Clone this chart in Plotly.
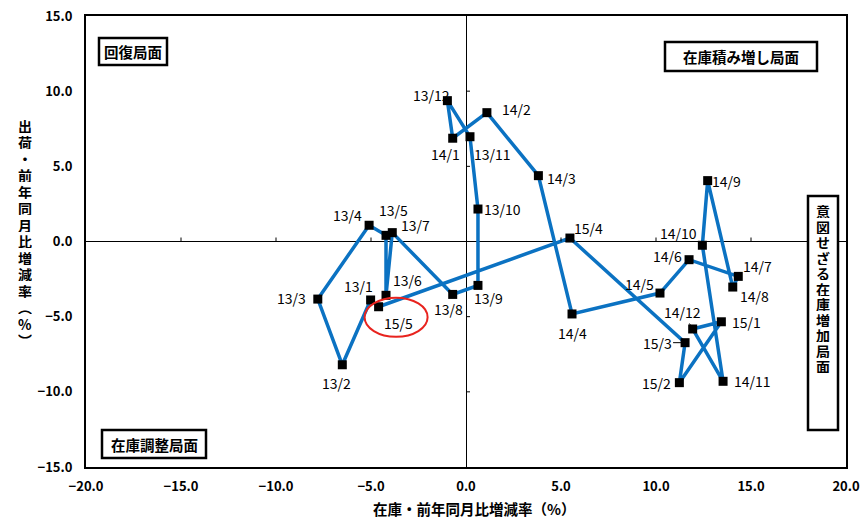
import plotly.graph_objects as go

# ---- data ----
labels = ["13/1", "13/2", "13/3", "13/4", "13/5", "13/6", "13/7", "13/8", "13/9",
          "13/10", "13/11", "13/12", "14/1", "14/2", "14/3", "14/4", "14/5", "14/6",
          "14/7", "14/8", "14/9", "14/10", "14/11", "14/12", "15/1", "15/2", "15/3",
          "15/4", "15/5"]
inventory = [-5.02, -6.51, -7.80, -5.10, -4.21, -4.21, -3.88, -0.70, 0.63,
             0.63, 0.21, -0.98, -0.70, 1.10, 3.81, 5.58, 10.21, 11.74,
             14.33, 14.04, 12.72, 12.44, 13.53, 11.93, 13.44, 11.23, 11.53,
             5.47, -4.60]
shipments = [-3.89, -8.20, -3.83, 1.08, 0.41, -3.58, 0.59, -3.52, -2.92,
             2.16, 6.97, 9.37, 6.87, 8.57, 4.38, -4.82, -3.43, -1.21,
             -2.32, -3.03, 4.05, -0.25, -9.30, -5.82, -5.34, -9.39, -6.73,
             0.23, -4.34]
x_ticks = [-20, -15, -10, -5, 0, 5, 10, 15, 20]
y_ticks = [-15, -10, -5, 0, 5, 10, 15]
x_title = "在庫・前年同月比増減率（%）"
y_title = "出荷・前年同月比増減率︵%︶"
phase_labels = ["回復局面", "在庫積み増し局面", "在庫調整局面", "意図せざる在庫増加局面"]
highlight = "15/5"

# ---- style / layout config ----
W, H = 861, 520
ML, MR, MT, MB = 86, 15, 16, 53
PW, PH = W - ML - MR, H - MT - MB
FONT = "Noto Sans CJK JP"
LINE_COLOR = "#0B72C2"

def px_x(p):
    return (p - ML) / PW

def px_y(p):
    return (H - MB - p) / PH

# label offsets in pixels (dx right, dy down)
label_offsets = {
    "13/1": (-12, -14), "13/2": (-6, 18), "13/3": (-26, -1), "13/4": (-22, -10),
    "13/5": (7, -25), "13/6": (21, -15), "13/7": (23, -8), "13/8": (-4, 15),
    "13/9": (11, 13), "13/10": (25, 0), "13/11": (23, 17), "13/12": (-16, -6),
    "14/1": (-7, 16), "14/2": (30, -4), "14/3": (23, 2), "14/4": (0, 19),
    "14/5": (-20, -9), "14/6": (-22, -4), "14/7": (19, -10), "14/8": (22, 9),
    "14/9": (19, 0), "14/10": (-24, -12), "14/11": (29, 0), "14/12": (-10, -17),
    "15/1": (25, 0), "15/2": (-23, 0), "15/3": (-28, 0), "15/4": (19, -10),
    "15/5": (20, 16),
}
leader_labels = {"14/12", "15/3"}

fig = go.Figure()
fig.add_trace(go.Scatter(
    x=inventory, y=shipments, mode="lines+markers",
    line=dict(color=LINE_COLOR, width=3.5),
    marker=dict(symbol="square", size=9, color="black"),
    hoverinfo="skip", showlegend=False,
))

annotations = []
for lab, xv, yv in zip(labels, inventory, shipments):
    dx, dy = label_offsets[lab]
    if lab in leader_labels:
        annotations.append(dict(
            x=xv, y=yv, xref="x", yref="y", text=lab, showarrow=True,
            arrowhead=0, arrowwidth=1, arrowcolor="black", ax=dx, ay=dy,
            standoff=4, font=dict(family=FONT, size=14, color="black")))
    else:
        annotations.append(dict(
            x=xv, y=yv, xref="x", yref="y", text=lab, showarrow=False,
            xshift=dx, yshift=-dy, xanchor="center", yanchor="middle",
            font=dict(family=FONT, size=14, color="black")))

shapes = []
# ticks on the cross (zero) axes
for t in x_ticks:
    if t not in (0, x_ticks[0], x_ticks[-1]):
        shapes.append(dict(type="line", xref="x", yref="y", x0=t, x1=t,
                           ysizemode="pixel", yanchor=0, y0=0, y1=4,
                           line=dict(color="black", width=1)))
for t in y_ticks:
    if t not in (0, y_ticks[0], y_ticks[-1]):
        shapes.append(dict(type="line", xref="x", yref="y", y0=t, y1=t,
                           xsizemode="pixel", xanchor=0, x0=0, x1=4,
                           line=dict(color="black", width=1)))

# red ellipse around the latest point label
hi = labels.index(highlight)
shapes.append(dict(type="circle", xref="x", yref="y",
                   xsizemode="pixel", ysizemode="pixel",
                   xanchor=inventory[hi], yanchor=shipments[hi],
                   x0=-14, x1=49, y0=-30, y1=9,
                   line=dict(color="#E8231E", width=2)))

# phase boxes (pixel rectangles)
boxes = [(99, 38, 167, 65), (665, 42, 817, 71), (102, 430, 206, 458), (808, 196, 838, 430)]
for (x0, y0, x1, y1), txt in zip(boxes, phase_labels):
    shapes.append(dict(type="rect", xref="paper", yref="paper",
                       x0=px_x(x0), x1=px_x(x1), y0=px_y(y1), y1=px_y(y0),
                       fillcolor="white", line=dict(color="black", width=2.5),
                       layer="above"))
for (x0, y0, x1, y1), txt in zip(boxes[:3], phase_labels[:3]):
    annotations.append(dict(x=px_x((x0 + x1) / 2), y=px_y((y0 + y1) / 2),
                            xref="paper", yref="paper", text=txt, showarrow=False,
                            xanchor="center", yanchor="middle",
                            font=dict(family=FONT, size=14.5, color="black", weight="bold")))
# vertical text in right box (stacked characters)
for i, ch in enumerate(phase_labels[3]):
    annotations.append(dict(x=px_x(823), y=px_y(211 + i * 15.5), xref="paper", yref="paper",
                            text=ch, showarrow=False, xanchor="center", yanchor="middle",
                            height=14, borderpad=0,
                            font=dict(family=FONT, size=14, color="black", weight="bold")))
# vertical y-axis title (stacked characters)
for i, ch in enumerate(y_title):
    annotations.append(dict(x=px_x(25), y=px_y(125 + i * 16.5), xref="paper", yref="paper",
                            text=ch, showarrow=False, xanchor="center", yanchor="middle",
                            height=15, borderpad=0,
                            font=dict(family=FONT, size=14, color="black", weight="bold")))
# x-axis title
annotations.append(dict(x=px_x(474), y=px_y(509), xref="paper", yref="paper",
                        text=x_title, showarrow=False, xanchor="center", yanchor="middle",
                        font=dict(family=FONT, size=14.5, color="black", weight="bold")))

axis_common = dict(showgrid=False, zeroline=True, zerolinecolor="black", zerolinewidth=1,
                   showline=True, linecolor="black", linewidth=2, mirror=True,
                   ticks="outside", ticklen=4, tickcolor="rgba(0,0,0,0)",
                   tickfont=dict(family=FONT, size=13, color="black", weight="bold"),
                   tickformat=".1f", fixedrange=True, automargin=False)

fig.update_layout(
    width=W, height=H,
    margin=dict(l=ML, r=MR, t=MT, b=MB, autoexpand=False),
    paper_bgcolor="white", plot_bgcolor="white",
    xaxis=dict(range=[x_ticks[0], x_ticks[-1]], tickvals=x_ticks, ticklabelstandoff=2, **axis_common),
    yaxis=dict(range=[y_ticks[0], y_ticks[-1]], tickvals=y_ticks, ticklabelstandoff=5, **axis_common),
    shapes=shapes, annotations=annotations,
)
fig.write_html("out.html")
